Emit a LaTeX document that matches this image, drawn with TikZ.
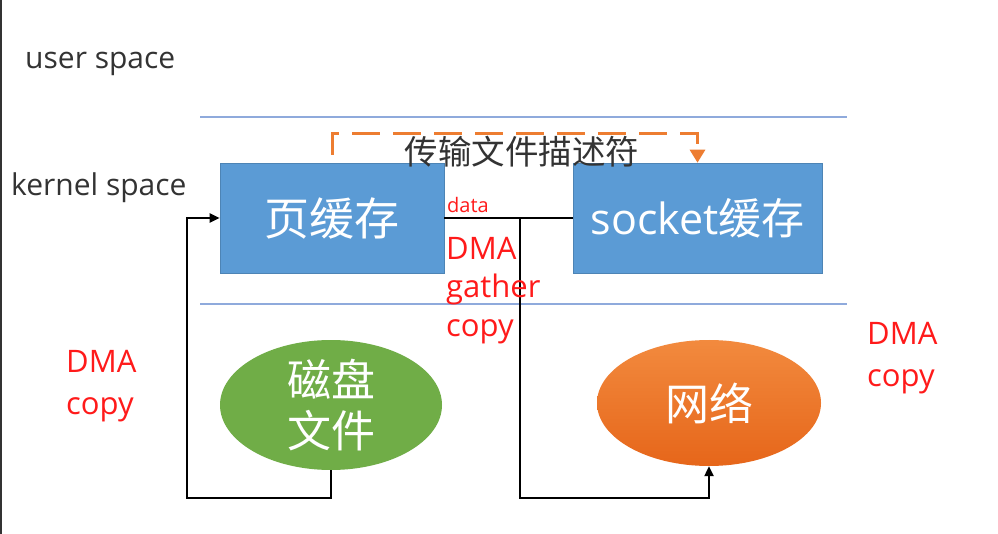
\documentclass[tikz,border=0pt]{standalone}
\usepackage{fontspec}
\setmainfont{Open Sans}
\newfontfamily\cjk{Noto Sans CJK SC}
\usetikzlibrary{arrows.meta,shapes.geometric}
\definecolor{boxblue}{HTML}{5B9BD5}
\definecolor{sepblue}{HTML}{8FAADC}
\definecolor{diskgreen}{HTML}{70AD47}
\definecolor{netorangetop}{HTML}{F28A3E}
\definecolor{netorangebot}{HTML}{E6661A}
\definecolor{dashorange}{HTML}{ED7D31}
\definecolor{dmared}{HTML}{FF1A1A}
\definecolor{txtgray}{HTML}{333333}
\tikzset{
  sepline/.style={draw=sepblue, line width=1.4pt},
  bufbox/.style={rectangle, fill=boxblue, draw=boxblue!85!black, line width=0.6pt, text=white, inner sep=0pt},
  blob/.style={ellipse, text=white, inner sep=0pt, align=center},
  conn/.style={draw=black, line width=2.2pt},
  connarrow/.style={conn, -{Triangle[length=10pt,width=9pt]}},
  dashconn/.style={draw=dashorange, line width=3pt, dash pattern=on 28pt off 13pt, dash phase=33pt, -{Triangle[length=13pt,width=15pt]}},
  redlbl/.style={text=dmared, inner sep=0pt, align=left, anchor=north west},
  spacelbl/.style={text=txtgray, inner sep=0pt, anchor=base west, font=\fontsize{30}{34}\selectfont},
}
\begin{document}
\begin{tikzpicture}[x=1pt,y=-1pt]
\useasboundingbox (0,0) rectangle (998,534);
\fill[white] (0,0) rectangle (998,534);
\draw[draw=txtgray, line width=2pt] (1,0) -- (1,534);

% layer labels
\node[spacelbl] (us) at (25,69) {user space};
\node[spacelbl] (ks) at (11,196) {kernel space};

% separators
\coordinate (s1a) at (200,117); \coordinate (s1b) at (847,117);
\coordinate (s2a) at (200,304); \coordinate (s2b) at (847,304);
\draw[sepline] (s1a) -- (s1b);
\draw[sepline] (s2a) -- (s2b);

% buffers
\node[bufbox, minimum width=224pt, minimum height=110pt, font=\cjk\fontsize{45}{50}\selectfont] (page) at (332,218) {页缓存};
\node[bufbox, minimum width=249pt, minimum height=110pt, font=\fontsize{43}{50}\selectfont] (sock) at (697.5,218) {socket{\cjk 缓存}};

% devices
\node[blob, fill=diskgreen, minimum width=222pt, minimum height=126pt, font=\cjk\fontsize{44}{51}\selectfont] (disk) at (331,405) {磁盘\\文件};
\node[blob, top color=netorangetop, bottom color=netorangebot, minimum width=224pt, minimum height=126pt, font=\cjk\fontsize{44}{51}\selectfont] (net) at (709,403) {网络};

% descriptor transfer
\draw[dashconn] (page.north) -- ++(0,-29) -| (sock.north);
\node[text=txtgray, inner sep=0pt, font=\cjk\fontsize{33.5}{38}\selectfont] (desc) at (522,152) {传输文件描述符};

% data paths
\coordinate (bl) at (187,498);
\draw[connarrow] (disk.south) |- (bl) |- (page.west);
\coordinate (jn) at (520,218);
\coordinate (br) at (520,498);
\draw[conn] (page.east) -- (sock.west);
\draw[connarrow] (jn) -- (br) -| (net.south);

% red labels
\node[text=dmared, inner sep=0pt, anchor=base west, font=\fontsize{20}{22}\selectfont] (data) at (447,213) {data};
\node[redlbl, font=\fontsize{31}{38.5}\selectfont] (dmag) at (446,237) {DMA\\gather\\copy};
\node[redlbl, font=\fontsize{31}{42}\selectfont] (dmal) at (66,350) {DMA\\copy};
\node[redlbl, font=\fontsize{31}{42}\selectfont] (dmar) at (867,322) {DMA\\copy};
\end{tikzpicture}
\end{document}
